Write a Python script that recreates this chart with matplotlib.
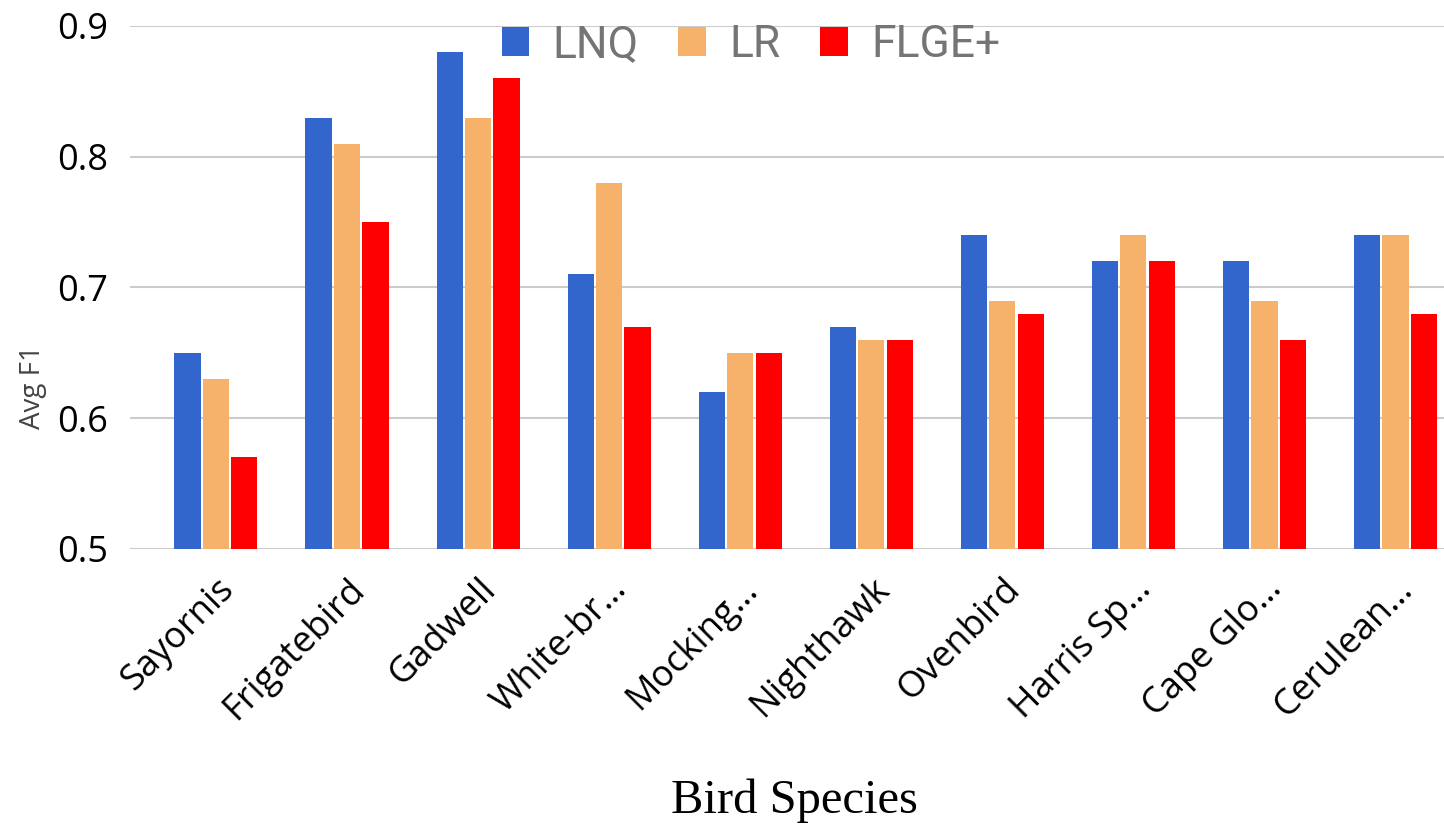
import numpy as np
import matplotlib
matplotlib.use("Agg")
import matplotlib.pyplot as plt
from matplotlib.patches import Patch

species = ["Sayornis", "Frigatebird", "Gadwell", "White-br\u2026", "Mocking\u2026",
           "Nighthawk", "Ovenbird", "Harris Sp\u2026", "Cape Glo\u2026", "Cerulean\u2026"]
lnq = [0.65, 0.83, 0.88, 0.71, 0.62, 0.67, 0.74, 0.72, 0.72, 0.74]
lr = [0.63, 0.81, 0.83, 0.78, 0.65, 0.66, 0.69, 0.74, 0.69, 0.74]
flge = [0.57, 0.75, 0.86, 0.67, 0.65, 0.66, 0.68, 0.72, 0.66, 0.68]
series_names = ["LNQ", "LR", "FLGE+"]
colors = ["#3366CC", "#F6B26B", "#FF0000"]

fig = plt.figure(figsize=(14.44, 8.30), dpi=100)
ax = fig.add_axes([0.09, 0.3386, 0.91, 0.6301])

x = np.arange(len(species))
step = 0.217
width = 0.2
for i, (vals, c) in enumerate(zip([lnq, lr, flge], colors)):
    ax.bar(x + (i - 1) * step, np.array(vals) - 0.5, width, bottom=0.5,
           color=c, zorder=3)

ax.set_ylim(0.5, 0.9)
ax.set_xlim(-0.656, 9.37)
ax.set_yticks([0.5, 0.6, 0.7, 0.8, 0.9])
ax.set_yticklabels(["0.5", "0.6", "0.7", "0.8", "0.9"], family="Open Sans", fontsize=26)
ax.yaxis.grid(True, color="#CCCCCC", linewidth=1.5, zorder=0)
ax.tick_params(axis="both", length=0)
ax.tick_params(axis="y", pad=16)
for s in ax.spines.values():
    s.set_visible(False)

ax.set_xticks(x)
ax.set_xticklabels(species, rotation=45, ha="right", rotation_mode="anchor",
                   family="Open Sans", fontsize=26)
ax.tick_params(axis="x", pad=16)

fig.text(0.023, 0.534, "Avg F1", rotation=90, ha="center", va="center",
         family="Open Sans", fontsize=20, color="#444444")
fig.text(0.55, 0.035, "Bird Species", ha="center", va="center",
         family="Liberation Serif", fontsize=35)

handles = [Patch(facecolor=c, edgecolor="none") for c in colors]
leg = fig.legend(handles, series_names, loc="center", bbox_to_anchor=(0.52, 0.946),
                 ncol=3, frameon=False, handlelength=0.62, handleheight=0.62,
                 handletextpad=0.52, columnspacing=0.9,
                 prop={"family": "Roboto", "size": 32})
for t in leg.get_texts():
    t.set_color("#757575")

fig.savefig("out.png", dpi=100)
